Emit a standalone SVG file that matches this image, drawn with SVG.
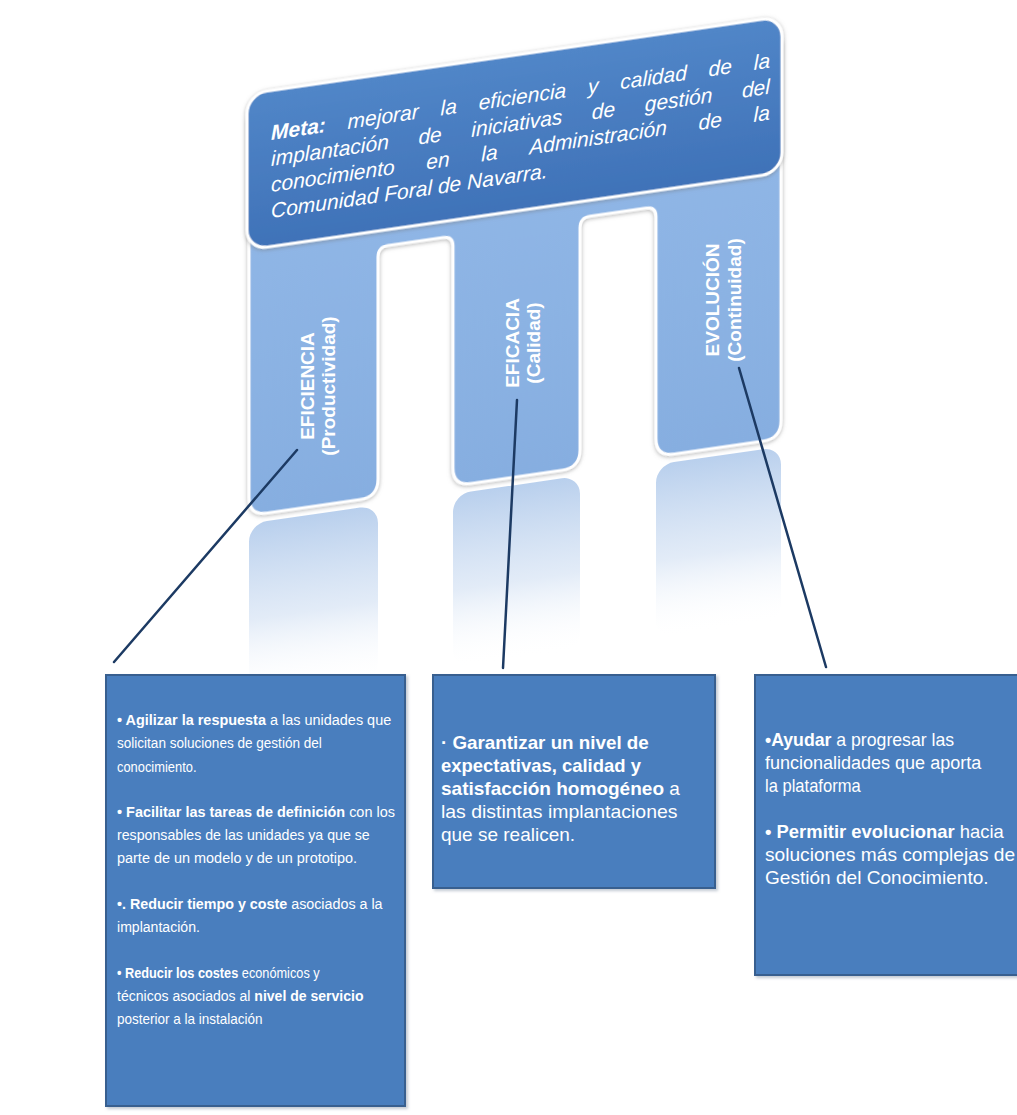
<svg xmlns="http://www.w3.org/2000/svg" width="1017" height="1115" viewBox="0 0 1017 1115">
<defs>
<linearGradient id="gBanner" x1="0" y1="0" x2="0" y2="1">
<stop offset="0" stop-color="#5186C8"/>
<stop offset="1" stop-color="#3F72B8"/>
</linearGradient>
<linearGradient id="gPillar" x1="0" y1="0" x2="0" y2="1">
<stop offset="0" stop-color="#93B9E8"/>
<stop offset="1" stop-color="#86AEE0"/>
</linearGradient>
<linearGradient id="gRefl" x1="0" y1="0" x2="0" y2="1">
<stop offset="0" stop-color="#B5CDEC" stop-opacity="0.95"/>
<stop offset="0.55" stop-color="#D6E3F4" stop-opacity="0.7"/>
<stop offset="1" stop-color="#FFFFFF" stop-opacity="0"/>
</linearGradient>
<filter id="sh" x="-10%" y="-10%" width="120%" height="120%">
<feDropShadow dx="0" dy="1" stdDeviation="2" flood-color="#707070" flood-opacity="0.55"/>
</filter>
<filter id="bsh" x="-5%" y="-5%" width="110%" height="110%">
<feDropShadow dx="2" dy="2" stdDeviation="1.5" flood-color="#9AA6B5" flood-opacity="0.6"/>
</filter>
<style>
.bt{font-family:"Liberation Sans",Arial,sans-serif;font-style:italic;font-size:21px;fill:#FFFFFF}
.pt{font-family:"Liberation Sans",Arial,sans-serif;font-weight:bold;font-size:19px;fill:#FFFFFF;text-anchor:middle}
.tx{font-family:"Liberation Sans",Arial,sans-serif;font-size:15px;fill:#FFFFFF}
.tl{font-family:"Liberation Sans",Arial,sans-serif;font-size:18px;fill:#FFFFFF}
.b{font-weight:bold}
.box{fill:#4A7EBE;stroke:#385E8F;stroke-width:2}
.con{stroke:#1C3A63;stroke-width:2.5;fill:none;stroke-linecap:round}
</style>
</defs>
<rect width="1017" height="1115" fill="#FFFFFF"/>

<g id="reflections" transform="matrix(1,-0.145,0,1,0,35.8)">
<rect x="249" y="524" width="129" height="175" rx="18" fill="url(#gRefl)"/>
<rect x="453" y="524" width="127" height="175" rx="18" fill="url(#gRefl)"/>
<rect x="656" y="524" width="125" height="175" rx="18" fill="url(#gRefl)"/>
</g>

<g id="pillars" transform="matrix(1,-0.145,0,1,0,35.8)">
<path d="M249 120 H781 V498 Q781 516 763 516 H674 Q656 516 656 498 V276 Q656 266 646 266 H590 Q580 266 580 276 V498 Q580 516 562 516 H471 Q453 516 453 498 V276 Q453 266 443 266 H388 Q378 266 378 276 V498 Q378 516 360 516 H267 Q249 516 249 498 Z" fill="url(#gPillar)" stroke="#FFFFFF" stroke-width="3" filter="url(#sh)"/>
</g>

<g id="goal" transform="matrix(1,-0.145,0,1,0,35.8)">
<rect x="247" y="94" width="535" height="156" rx="20" fill="url(#gBanner)" stroke="#FFFFFF" stroke-width="3" filter="url(#sh)"/>
<text class="bt" y="143.5"><tspan x="271" font-weight="bold">Meta:</tspan><tspan x="347.6">mejorar</tspan><tspan x="440.6">la</tspan><tspan x="478.7">eficiencia</tspan><tspan x="588">y</tspan><tspan x="620.3">calidad</tspan><tspan x="708.6">de</tspan><tspan x="753.8">la</tspan></text>
<text class="bt" y="169.5"><tspan x="271">implantación</tspan><tspan x="418.4">de</tspan><tspan x="471.3">iniciativas</tspan><tspan x="591.8">de</tspan><tspan x="644.7">gestión</tspan><tspan x="741.9">del</tspan></text>
<text class="bt" y="195.5"><tspan x="271">conocimiento</tspan><tspan x="426.3">en</tspan><tspan x="481.3">la</tspan><tspan x="529.2">Administración</tspan><tspan x="698.5">de</tspan><tspan x="753.5">la</tspan></text>
<text class="bt" x="271" y="221.5">Comunidad Foral de Navarra.</text>
</g>

<g id="pillar-eficiencia">
<text class="pt" transform="translate(314,386) rotate(-90)">EFICIENCIA</text>
<text class="pt" transform="translate(335,386) rotate(-90)">(Productividad)</text>
</g>
<g id="pillar-eficacia">
<text class="pt" transform="translate(519,343) rotate(-90)">EFICACIA</text>
<text class="pt" transform="translate(540,343) rotate(-90)">(Calidad)</text>
</g>
<g id="pillar-evolucion">
<text class="pt" transform="translate(719,300) rotate(-90)">EVOLUCIÓN</text>
<text class="pt" transform="translate(741,300) rotate(-90)">(Continuidad)</text>
</g>

<g id="connectors">
<line class="con" x1="297" y1="450" x2="114" y2="662"/>
<line class="con" x1="517" y1="400" x2="503" y2="668"/>
<line class="con" x1="739" y1="368" x2="826" y2="667"/>
</g>

<g id="box-eficiencia">
<rect class="box" x="106" y="675" width="299" height="431" filter="url(#bsh)"/>
<text class="tx" transform="translate(117,725) scale(0.963,1)"><tspan class="b">• Agilizar la respuesta</tspan> a las unidades que</text>
<text class="tx" transform="translate(117,748) scale(0.904,1)">solicitan soluciones de gestión del</text>
<text class="tx" transform="translate(117,772) scale(0.86,1)">conocimiento.</text>
<text class="tx" transform="translate(117,817) scale(0.963,1)"><tspan class="b">• Facilitar las tareas de definición</tspan> con los</text>
<text class="tx" transform="translate(117,840) scale(0.945,1)">responsables de las unidades ya que se</text>
<text class="tx" transform="translate(117,863) scale(0.963,1)">parte de un modelo y de un prototipo.</text>
<text class="tx" transform="translate(117,909) scale(0.954,1)"><tspan class="b">•. Reducir tiempo y coste</tspan> asociados a la</text>
<text class="tx" transform="translate(117,932) scale(0.939,1)">implantación.</text>
<text class="tx" transform="translate(117,978) scale(0.85,1)"><tspan class="b">• Reducir los costes</tspan> económicos y</text>
<text class="tx" transform="translate(117,1001) scale(0.937,1)">técnicos asociados al <tspan class="b">nivel de servicio</tspan></text>
<text class="tx" transform="translate(117,1024) scale(0.9,1)">posterior a la instalación</text>
</g>

<g id="box-eficacia">
<rect class="box" x="433" y="675" width="282" height="213" filter="url(#bsh)"/>
<text class="tl b" transform="translate(441,749) scale(1.045,1)">· Garantizar un nivel de</text>
<text class="tl b" transform="translate(441,772) scale(1.025,1)">expectativas, calidad y</text>
<text class="tl" transform="translate(441,795) scale(1.057,1)"><tspan class="b">satisfacción homogéneo</tspan> a</text>
<text class="tl" transform="translate(441,818) scale(1.08,1)">las distintas implantaciones</text>
<text class="tl" transform="translate(441,841) scale(1.055,1)">que se realicen.</text>
</g>

<g id="box-evolucion">
<rect class="box" x="755" y="675" width="265" height="300" filter="url(#bsh)"/>
<text class="tl" transform="translate(765,746) scale(0.982,1)"><tspan class="b">•Ayudar</tspan> a progresar las</text>
<text class="tl" transform="translate(765,769) scale(1,1)">funcionalidades que aporta</text>
<text class="tl" transform="translate(765,792) scale(0.92,1)">la plataforma</text>
<text class="tl" transform="translate(765,838) scale(1.024,1)"><tspan class="b">• Permitir evolucionar</tspan> hacia</text>
<text class="tl" transform="translate(765,861) scale(1.064,1)">soluciones más complejas de</text>
<text class="tl" transform="translate(765,884) scale(1.06,1)">Gestión del Conocimiento.</text>
</g>
</svg>
